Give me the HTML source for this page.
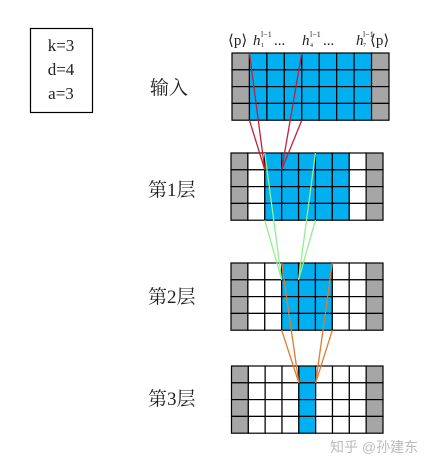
<!DOCTYPE html>
<html><head><meta charset="utf-8"><style>
body{margin:0;background:#fff;}
svg{display:block;}
</style></head><body>
<svg width="426" height="466" viewBox="0 0 426 466" xmlns="http://www.w3.org/2000/svg">
<g id="g"></g>
<rect x="30.5" y="28.5" width="62" height="84" fill="none" stroke="#000" stroke-width="1.2"/>
<g font-family="Liberation Serif, serif" font-size="17" text-anchor="middle" fill="#222">
<text x="61" y="51">k=3</text>
<text x="61" y="75">d=4</text>
<text x="61" y="99">a=3</text>
</g>
<g font-family="Liberation Serif, 'Noto Serif CJK SC', serif" font-size="19" fill="#222">
<text x="150" y="94">输入</text>
<text x="148" y="196">第1层</text>
<text x="148" y="303">第2层</text>
<text x="148" y="405">第3层</text>
</g>
<g font-family="Liberation Serif, serif" font-size="15" fill="#222">
<text x="228" y="45">⟨p⟩</text>
<text x="253" y="45" font-style="italic">h</text><text x="261" y="37" font-size="8">l−1</text><text x="261" y="47" font-size="6">1</text>
<text x="274" y="45">...</text>
<text x="302" y="45" font-style="italic">h</text><text x="310" y="37" font-size="8">l−1</text><text x="310" y="47" font-size="6">4</text>
<text x="323" y="45">...</text>
<text x="356" y="45" font-style="italic">h</text><text x="363" y="37" font-size="8">l−1</text><text x="363" y="47" font-size="6">7</text>
<text x="370" y="45">⟨p⟩</text>
</g>
<text x="330" y="452" font-family="Liberation Sans, 'Noto Sans CJK SC', sans-serif" font-size="14" fill="#bbb">知乎 @孙建东</text>
</svg>
<script>
// column states per layer: 0=white,1=blue,2=gray
const layerInput=[2,1,1,1,1,1,1,1,2];
const layer1=[2,0,1,1,1,1,1,0,2];
const layer2=[2,0,0,1,1,1,0,0,2];
const layer3=[2,0,0,0,1,0,0,0,2];
const layers=[layerInput,layer1,layer2,layer3];
const layerNames=['input-grid','layer1-grid','layer2-grid','layer3-grid'];
const tops=[53,153,263,366];
const lefts=[232,231,231,231.5];
const rights=[389,383,383,383];
const rows=4;
const g=document.getElementById('g');
const NS='http://www.w3.org/2000/svg';
const colors=['#ffffff','#00b0f0','#a6a6a6'];
const rowH=16.8;
function colX(li,i){return lefts[li]+(rights[li]-lefts[li])*i/9;}
layers.forEach((cols,li)=>{
  const grp=document.createElementNS(NS,'g');
  
  
  g.appendChild(grp);
  cols.forEach((c,ci)=>{
    for(let r=0;r<rows;r++){
      const rc=document.createElementNS(NS,'rect');
      rc.setAttribute('x',colX(li,ci));rc.setAttribute('y',tops[li]+r*rowH);
      rc.setAttribute('width',(rights[li]-lefts[li])/9);rc.setAttribute('height',rowH);
      rc.setAttribute('fill',colors[c]);rc.setAttribute('stroke','#000');rc.setAttribute('stroke-width','1.2');
      
      
      grp.appendChild(rc);
    }
  });
});
// connection lines: [fromLayer, fromCol, toLayer, toCol(point), color]
const conns=[[0,1,1,2,'#c0203a'],[0,4,1,3,'#c0203a'],[1,2,2,3,'#90f090'],[1,5,2,4,'#90f090'],[2,3,3,4,'#e07b30'],[2,6,3,5,'#e07b30']];
conns.forEach(([fl,fc,tl,tc,col])=>{
  const px=colX(tl,tc), py=tops[tl]+rowH;
  [tops[fl], tops[fl]+rows*rowH].forEach(y=>{
    const ln=document.createElementNS(NS,'line');
    ln.setAttribute('x1',colX(fl,fc));ln.setAttribute('y1',y);
    ln.setAttribute('x2',px);ln.setAttribute('y2',py);
    ln.setAttribute('stroke',col);ln.setAttribute('stroke-width','1.3');
    
    
    g.appendChild(ln);
  });
});
</script>
</body></html>
